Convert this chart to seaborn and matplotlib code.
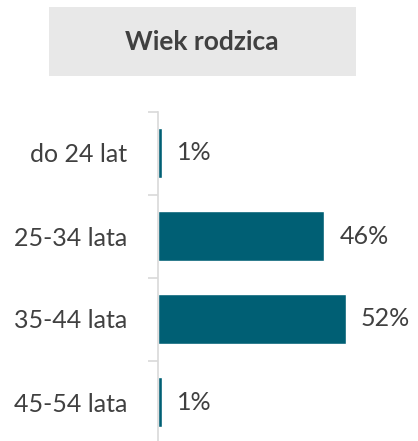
import matplotlib.pyplot as plt
import seaborn as sns
import pandas as pd
from matplotlib.patches import Rectangle
from matplotlib.ticker import FixedLocator

# dane
kategorie = ['do 24 lat', '25-34 lata', '35-44 lata', '45-54 lata']
wartosci = [1, 46, 52, 1]
tytul = 'Wiek rodzica'

df = pd.DataFrame({'wiek': kategorie, 'procent': wartosci})

sns.set_style('white')
plt.rcParams['font.family'] = ['Lato', 'DejaVu Sans']

fig = plt.figure(figsize=(4.18, 4.41), dpi=100)
W, H = 418, 441
# osie: lewa krawedz x=158, gora y=111.5, dol y=443.5
ax = fig.add_axes([158 / W, (H - 443.5) / H, (W - 158) / W, (443.5 - 111.5) / H])

sns.barplot(data=df, y='wiek', x='procent', orient='h', color='#005F74',
            width=0.6, saturation=1, ax=ax)
ax.set_xlim(0, 72)
ax.set_ylim(3.5, -0.5)

# etykiety wartosci
ax.bar_label(ax.containers[0], labels=[f'{v}%' for v in wartosci],
             padding=11, fontsize=18, color='#404040')

# os i znaczniki
for s in ['top', 'right', 'bottom']:
    ax.spines[s].set_visible(False)
ax.spines['left'].set_color('#D9D9D9')
ax.spines['left'].set_linewidth(1.2)
ax.set_xticks([])
ax.set_xlabel('')
ax.set_ylabel('')
ax.tick_params(axis='y', which='major', left=True, length=0, pad=22,
               labelsize=18, labelcolor='#404040')
ax.yaxis.set_minor_locator(FixedLocator([-0.5, 0.5, 1.5, 2.5, 3.5]))
ax.tick_params(axis='y', which='minor', left=True, length=7, width=1.2, color='#D9D9D9')

# tytul w szarym prostokacie
fig.patches.append(Rectangle((49 / W, (H - 76) / H), (356 - 49) / W, (76 - 7) / H,
                             transform=fig.transFigure, facecolor='#E8E8E8',
                             edgecolor='none', zorder=0))
fig.text(202 / W, (H - 42) / H, tytul, ha='center', va='center',
         fontsize=19, fontweight='bold', color='#404040')

plt.savefig('out.png', dpi=100)
